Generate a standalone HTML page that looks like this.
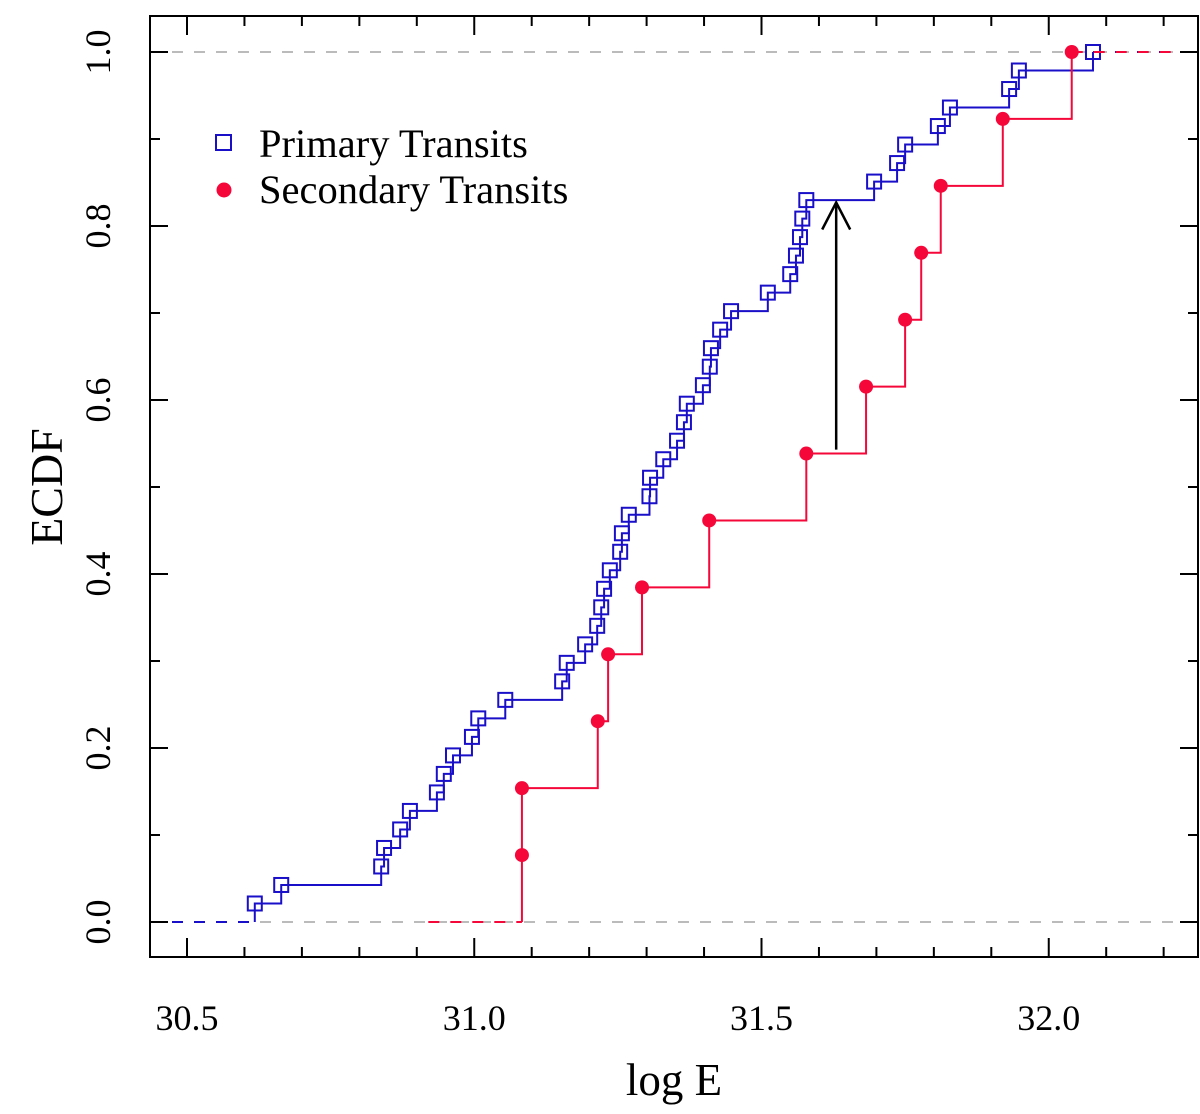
<!DOCTYPE html>
<html><head><meta charset="utf-8"><style>
html,body{margin:0;padding:0;background:#fff;}
svg{display:block;font-family:"Liberation Serif",serif;}
</style></head><body>
<svg id="chart" width="1200" height="1114" viewBox="0 0 1200 1114">
<g id="grid"></g>
<g id="series"></g>
<g id="axes"></g>
<text x="674" y="1095" font-size="45" text-anchor="middle">log E</text>
<text transform="translate(62,487) rotate(-90)" font-size="46" text-anchor="middle">ECDF</text>
<g>
<rect x="216" y="135" width="15" height="15" fill="none" stroke="#1a0fc8" stroke-width="2"/>
<text x="259" y="157" font-size="40.5">Primary Transits</text>
<circle cx="224" cy="190" r="7.5" fill="#f5073a"/>
<text x="259" y="203" font-size="40.5">Secondary Transits</text>
</g>
</svg>
<script>
const primaryValues = [30.618,30.664,30.838,30.843,30.871,30.888,30.935,30.947,30.963,30.996,31.007,31.054,31.153,31.161,31.193,31.214,31.221,31.226,31.236,31.254,31.257,31.269,31.305,31.306,31.329,31.353,31.365,31.370,31.398,31.410,31.412,31.428,31.447,31.511,31.550,31.560,31.567,31.571,31.578,31.696,31.736,31.750,31.807,31.828,31.931,31.948,32.077];
const secondaryValues = [31.083,31.083,31.215,31.233,31.292,31.409,31.578,31.682,31.750,31.778,31.812,31.920,32.040];
const xTickLabels = ["30.5","31.0","31.5","32.0"];
const yTickLabels = ["0.0","0.2","0.4","0.6","0.8","1.0"];
const arrowX = [31.63];
const arrowY = [0.543, 0.827];

const NS="http://www.w3.org/2000/svg";
const L=150,R=1198,T=16,B=957;
const xs=v=>187+(v-30.5)*574.5;
const ys=v=>922-v*870;
function mk(tag,attrs,parent){const e=document.createElementNS(NS,tag);for(const k in attrs)e.setAttribute(k,attrs[k]);parent.appendChild(e);return e;}
const grid=document.getElementById('grid'),series=document.getElementById('series'),axes=document.getElementById('axes');

[0,1].forEach(v=>{const e=mk('line',{x1:L,x2:R,y1:ys(v),y2:ys(v),stroke:'#bbb','stroke-width':2,'stroke-dasharray':'11 11'},grid);

});

function drawEcdf(vals,color,name,leftStart,marker){
  const s=vals.slice().sort((a,b)=>a-b),n=s.length;
  const g=mk('g',{},series);
  
  
  let d=`M${xs(s[0])},${ys(0)}`;
  for(let i=0;i<n;i++){d+=` V${ys((i+1)/n)}`;if(i<n-1)d+=` H${xs(s[i+1])}`;}
  const p=mk('path',{d:d,fill:'none',stroke:color,'stroke-width':2},g);
  
  
  const l1=mk('line',{x1:Math.max(L,xs(leftStart)),x2:xs(s[0]),y1:ys(0),y2:ys(0),stroke:color,'stroke-width':2,'stroke-dasharray':'11 11'},g);
  
  
  const l2=mk('line',{x1:xs(s[n-1]),x2:R,y1:ys(1),y2:ys(1),stroke:color,'stroke-width':2,'stroke-dasharray':'11 11'},g);
  
  
  s.forEach((v,i)=>{
    let m;
    if(marker==='square') m=mk('rect',{x:xs(v)-7,y:ys((i+1)/n)-7,width:14,height:14,fill:'none',stroke:color,'stroke-width':2},g);
    else m=mk('circle',{cx:xs(v),cy:ys((i+1)/n),r:7,fill:color},g);
    
    
  });
}
drawEcdf(primaryValues,'#1a0fc8','primary-transits',30.40,'square');
drawEcdf(secondaryValues,'#f5073a','secondary-transits',30.92,'circle');

const ar=mk('g',{},series);


const ax=xs(arrowX[0]),ay0=ys(arrowY[0]),ay1=ys(arrowY[1]);
mk('line',{x1:ax,x2:ax,y1:ay0,y2:ay1,stroke:'#000','stroke-width':2.5},ar);
mk('path',{d:`M${ax-14},${ay1+27} L${ax},${ay1} L${ax+14},${ay1+27}`,fill:'none',stroke:'#000','stroke-width':2.5},ar);

const box=mk('rect',{x:L,y:T,width:R-L,height:B-T,fill:'none',stroke:'#000','stroke-width':2},axes);


for(let k=-1;k<=17;k++){const v=30.5+k*0.1;const x=xs(v);if(x<L||x>R)continue;const len=(k%5===0)?19:10;
  const t1=mk('line',{x1:x,x2:x,y1:B,y2:B-len,stroke:'#000','stroke-width':2},axes);
  
  
  const t2=mk('line',{x1:x,x2:x,y1:T,y2:T+len,stroke:'#000','stroke-width':2},axes);
  
  }
xTickLabels.forEach(s=>{const t=mk('text',{x:xs(parseFloat(s)),y:1030,'font-size':36,'text-anchor':'middle'},axes);t.textContent=s;
  
  });
for(let k=0;k<=10;k++){const y=ys(k/10);const len=(k%2===0)?18:10;
  const t1=mk('line',{x1:L,x2:L+len,y1:y,y2:y,stroke:'#000','stroke-width':2},axes);
  
  
  const t2=mk('line',{x1:R,x2:R-len,y1:y,y2:y,stroke:'#000','stroke-width':2},axes);
  
  }
yTickLabels.forEach(s=>{const y=ys(parseFloat(s));const t=mk('text',{transform:`translate(110,${y}) rotate(-90)`,'font-size':36,'text-anchor':'middle'},axes);t.textContent=s;
  
  });
</script>
</body></html>
